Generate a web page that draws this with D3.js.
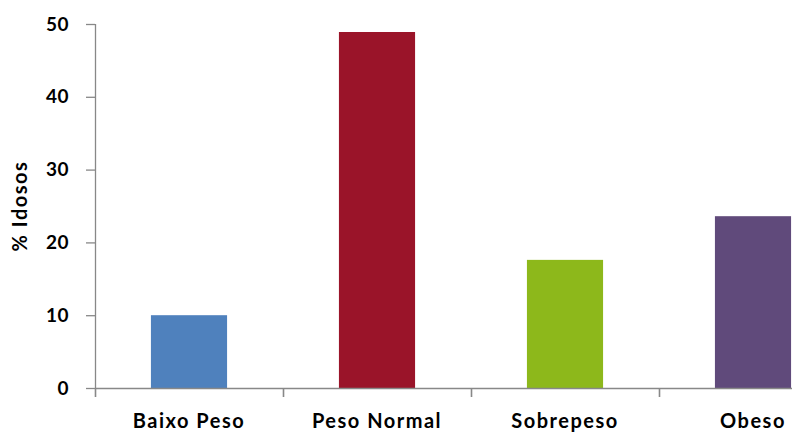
<!DOCTYPE html>
<html>
<head>
<meta charset="utf-8">
<script src="https://cdn.jsdelivr.net/npm/d3@7"></script>
<style>
  html, body { margin: 0; padding: 0; background: #fff; }
  svg { display: block; }
  .tick text { font-family: Lato, "Open Sans", sans-serif; font-weight: bold; }
</style>
</head>
<body>
<svg id="chart" width="792" height="432"></svg>
<script>
// Categories and their share of elderly (%)
const categories = ["Baixo Peso", "Peso Normal", "Sobrepeso", "Obeso"];
const values = [10.0, 48.9, 17.6, 23.6];
const colors = ["#4F81BD", "#9A1429", "#8DB81B", "#604A7B"];
const yTicks = [0, 10, 20, 30, 40, 50];
const yTitle = "% Idosos";

const svg = d3.select("#chart");
const plotLeft = 95, plotTop = 24, plotBottom = 388, plotRight = 847;

const x = d3.scaleBand().domain(categories).range([plotLeft, plotRight]).padding(0);
const y = d3.scaleLinear().domain([0, 50]).range([plotBottom, plotTop]);

const barW = x.bandwidth() * 0.405;

// Bars
svg.append("g").selectAll("rect")
  .data(categories)
  .join("rect")
  .attr("x", (d) => x(d) + (x.bandwidth() - barW) / 2)
  .attr("y", (d, i) => y(values[i]))
  .attr("width", barW)
  .attr("height", (d, i) => y(0) - y(values[i]))
  .attr("fill", (d, i) => colors[i]);

// Y axis
const yAxis = svg.append("g")
  .attr("transform", `translate(${plotLeft},0)`)
  .call(d3.axisLeft(y).tickValues(yTicks).tickSize(9).tickPadding(17));
yAxis.selectAll("line, path").attr("stroke", "#888").attr("stroke-width", 1.3);
yAxis.select(".domain").attr("d", `M0.5,${plotTop}V${plotBottom}`);
yAxis.selectAll(".tick text").attr("font-size", 19).attr("letter-spacing", 0.5).attr("fill", "#000");

// X axis: ticks on category boundaries
const bounds = categories.map((d) => x(d)).concat([plotRight]);
const xg = svg.append("g");
xg.append("line")
  .attr("x1", plotLeft).attr("x2", plotRight)
  .attr("y1", plotBottom + 0.5).attr("y2", plotBottom + 0.5)
  .attr("stroke", "#888").attr("stroke-width", 1.6);
xg.selectAll("line.b")
  .data(bounds)
  .join("line")
  .attr("class", "b")
  .attr("x1", (d) => d + 0.5).attr("x2", (d) => d + 0.5)
  .attr("y1", plotBottom).attr("y2", plotBottom + 9)
  .attr("stroke", "#888").attr("stroke-width", 1.6);

xg.selectAll("text")
  .data(categories)
  .join("text")
  .attr("x", (d) => x(d) + x.bandwidth() / 2)
  .attr("y", 428)
  .attr("text-anchor", "middle")
  .attr("font-family", "Lato, 'Open Sans', sans-serif")
  .attr("font-weight", "bold")
  .attr("font-size", 20)
  .attr("letter-spacing", 1.5)
  .attr("fill", "#000")
  .text((d) => d);

// Y title
svg.append("text")
  .attr("transform", `translate(27,${(plotTop + plotBottom) / 2}) rotate(-90)`)
  .attr("text-anchor", "middle")
  .attr("font-family", "Lato, 'Open Sans', sans-serif")
  .attr("font-weight", "bold")
  .attr("font-size", 20)
  .attr("letter-spacing", 1.5)
  .attr("fill", "#000")
  .text(yTitle);
</script>
</body>
</html>
